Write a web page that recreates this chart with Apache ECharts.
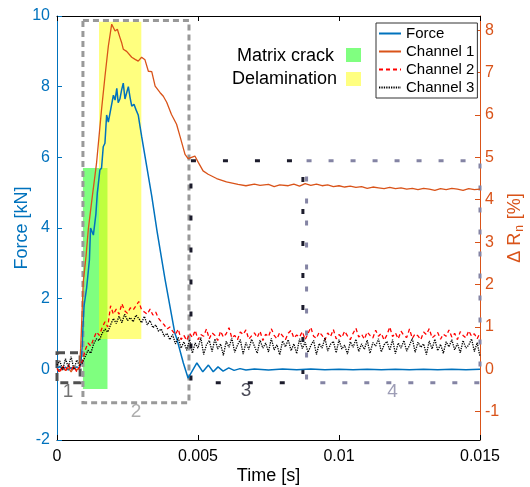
<!DOCTYPE html>
<html><head><meta charset="utf-8">
<script src="https://cdn.jsdelivr.net/npm/echarts@6/dist/echarts.min.js"></script>
<style>html,body{margin:0;padding:0;background:#fff}#c{width:530px;height:487px}</style>
</head><body><div id="c"></div>
<script>
// ---- data ----
const xTicks = [0, 0.005, 0.01, 0.015];
const forceTicks = [-2, 0, 2, 4, 6, 8, 10];
const rTicks = [-1, 0, 1, 2, 3, 4, 5, 6, 7, 8];

const forceData = [[0,0.03],[0.0001,0.08],[0.0002,0.0],[0.0003,0.06],[0.0004,-0.02],[0.0005,0.05],[0.0006,0.01],[0.0007,0.07],[0.0008,0.04],[0.00085,0.2],[0.00089,0.6],[0.00092,1.2],[0.00096,1.8],[0.00105,2.3],[0.00115,3.1],[0.00119,4.0],[0.00129,3.8],[0.00138,4.4],[0.00143,5.0],[0.00146,5.2],[0.00152,5.64],[0.00158,5.7],[0.00164,6.3],[0.0017,6.4],[0.00176,7.2],[0.00182,7.0],[0.00188,7.25],[0.00194,7.2],[0.002,7.76],[0.00206,7.62],[0.00212,7.95],[0.00217,7.55],[0.00223,7.65],[0.00229,7.9],[0.00235,8.1],[0.00241,7.65],[0.00247,7.7],[0.00253,8.0],[0.00259,7.7],[0.00265,7.45],[0.00273,7.5],[0.0028,7.35],[0.00288,7.2],[0.00294,6.9],[0.003,6.6],[0.00318,5.75],[0.00336,4.9],[0.00355,3.9],[0.00383,2.55],[0.00418,1.02],[0.00424,0.89],[0.00448,0.18],[0.00465,-0.25],[0.00472,-0.2],[0.00496,0.18],[0.00517,-0.07],[0.00537,0.12],[0.00554,-0.07],[0.00571,0.07],[0.00589,-0.05],[0.00609,0.04],[0.00628,-0.03],[0.00649,0.02],[0.0067,-0.02],[0.007,0.01],[0.0075,-0.02],[0.008,0.01],[0.0085,-0.01],[0.009,0.01],[0.0095,-0.01],[0.01,0.0],[0.0105,-0.01],[0.011,0.0],[0.0115,-0.01],[0.012,0.0],[0.0125,-0.01],[0.013,0.0],[0.0135,-0.01],[0.014,0.0],[0.0145,-0.01],[0.015,0.0]];

const ch1Data = [[0,0.02],[0.0001,-0.05],[0.0002,0.06],[0.0003,-0.03],[0.0004,0.04],[0.0005,-0.06],[0.0006,0.05],[0.0007,-0.02],[0.0008,0.05],[0.00084,0.5],[0.00093,2.05],[0.00103,2.67],[0.00111,3.3],[0.00123,3.96],[0.0014,4.85],[0.00158,6.13],[0.0017,6.9],[0.00182,7.62],[0.00194,8.14],[0.00198,8.14],[0.00206,7.98],[0.00214,8.02],[0.00223,7.83],[0.00229,7.71],[0.00235,7.55],[0.00247,7.5],[0.00253,7.48],[0.00265,7.36],[0.00277,7.31],[0.00288,7.27],[0.003,7.36],[0.00312,7.3],[0.00324,7.03],[0.00336,7.02],[0.00348,6.68],[0.00365,6.53],[0.00377,6.44],[0.00389,6.3],[0.00406,6.01],[0.00424,5.78],[0.00436,5.5],[0.00454,5.07],[0.00465,4.97],[0.00472,4.94],[0.00489,5.03],[0.00501,4.88],[0.00518,4.68],[0.00536,4.6],[0.00566,4.5],[0.00601,4.42],[0.00642,4.36],[0.0067,4.33],[0.007,4.37],[0.0072,4.34],[0.0075,4.36],[0.0077,4.31],[0.0079,4.35],[0.0082,4.33],[0.0084,4.37],[0.0086,4.32],[0.0088,4.38],[0.009,4.34],[0.0092,4.37],[0.0094,4.33],[0.0096,4.35],[0.0098,4.31],[0.01,4.33],[0.0102,4.3],[0.0104,4.32],[0.0106,4.29],[0.0108,4.31],[0.011,4.27],[0.0112,4.3],[0.0114,4.28],[0.0116,4.26],[0.0118,4.29],[0.012,4.26],[0.0122,4.28],[0.0124,4.25],[0.0126,4.27],[0.0128,4.24],[0.013,4.27],[0.0132,4.25],[0.0134,4.22],[0.0136,4.26],[0.0138,4.24],[0.014,4.27],[0.0142,4.25],[0.0144,4.22],[0.0146,4.26],[0.0148,4.24],[0.015,4.25]];

const chStep = 0.0001;
const ch2Values = [0.02,-0.08,0.1,-0.05,0.12,-0.02,0.08,-0.06,0.05,
0.2,0.45,0.62,0.55,0.72,0.88,0.8,0.98,1.12,1.0,
1.5,1.3,1.42,1.3,1.55,1.38,1.32,1.45,1.4,1.5,
1.6,1.4,1.35,1.3,1.42,1.28,1.35,1.2,1.12,1.05,
0.95,1.0,0.9,0.82,0.95,0.7,0.8,
0.68,0.85,0.75,0.92,0.7,0.82,0.78,0.95,0.72,0.86,
0.8,0.68,0.9,0.76,0.84,0.98,0.74,0.8,0.7,0.88,
0.82,0.93,0.71,0.79,0.86,0.75,0.9,0.68,0.83,0.77,
0.96,0.8,0.72,0.87,0.79,0.7,0.85,0.92,0.74,0.81,
0.76,0.89,0.7,0.84,0.99,0.78,0.73,0.88,0.8,0.69,
0.86,0.77,0.94,0.72,0.82,0.75,0.9,0.79,0.7,0.85,
0.97,0.76,0.83,0.71,0.88,0.8,0.74,0.92,0.78,0.85,
0.69,0.81,1.0,0.77,0.86,0.72,0.9,0.8,0.75,0.95,
0.73,0.84,0.79,0.7,0.88,0.82,0.96,0.74,0.8,0.87,
0.71,0.83,0.78,0.93,0.76,0.85,0.7,0.89,0.8,0.74,
0.91,0.78,0.84,0.72,0.86];
const ch3Values = [0.1,0.2,-0.02,0.25,0.05,0.3,0.0,0.22,0.08,
0.15,0.3,0.45,0.38,0.6,0.72,0.68,0.85,0.95,0.88,
1.05,1.2,1.08,1.25,1.1,1.3,1.15,1.22,1.12,1.28,
1.2,1.1,1.25,1.05,1.15,0.98,1.05,0.9,0.95,0.78,
0.85,0.7,0.82,0.6,0.75,0.5,0.65,
0.45,0.7,0.38,0.62,0.5,0.75,0.35,0.58,0.68,0.42,
0.72,0.48,0.6,0.33,0.66,0.52,0.74,0.4,0.57,0.7,
0.36,0.63,0.47,0.71,0.55,0.38,0.69,0.5,0.62,0.41,
0.73,0.46,0.58,0.34,0.67,0.53,0.7,0.44,0.6,0.37,
0.72,0.49,0.64,0.4,0.56,0.68,0.35,0.61,0.5,0.74,
0.43,0.59,0.66,0.39,0.7,0.48,0.57,0.36,0.65,0.52,
0.71,0.42,0.6,0.47,0.69,0.38,0.63,0.55,0.72,0.41,
0.58,0.66,0.45,0.7,0.37,0.62,0.5,0.68,0.43,0.57,
0.73,0.4,0.64,0.52,0.6,0.35,0.67,0.48,0.71,0.44,
0.59,0.38,0.65,0.53,0.7,0.46,0.61,0.39,0.68,0.5,
0.57,0.72,0.42,0.63,0.3];

// shaded damage regions: [t0, t1], [F0, F1]
const damageNames = ['Matrix crack', 'Delamination'];
const damageT = [[0.00092, 0.00179], [0.00149, 0.00299]];
const damageF = [[-0.56, 5.70], [0.86, 9.84]];

// stage boxes
const stageNames = ['1', '2', '3', '4'];
const stageT = [[-0.00004, 0.00082], [0.00092, 0.00468], [0.00475, 0.00872], [0.00885, 0.015]];
const stageF = [[-0.38, 0.47], [-0.945, 9.87], [-0.38, 5.9], [-0.38, 5.9]];
const stageLabelPos = [[0.00039, -0.64], [0.0028, -1.21], [0.0067, -0.62], [0.0119, -0.64]];

// ---- styles ----
const FONT = 'Liberation Sans, Arial, Helvetica, sans-serif';
const BLUE = '#0072BD', ORANGE = '#D95319';
const damageColors = ['rgba(0,255,0,0.5)', 'rgba(255,255,0,0.5)'];
const damageSwatch = ['#80FF80', '#FFFF80'];
const stageColors = ['#505050', '#999999', '#1c1c2c', '#8484a4'];
const stageDash = [[8, 5], [6, 4], [5, 27], [5, 17]];

const ch2Data = ch2Values.map((v, i) => [+(i * chStep).toFixed(5), v]);
const ch3Data = ch3Values.map((v, i) => [+(i * chStep).toFixed(5), v]);

const chart = echarts.init(document.getElementById('c'), null, {renderer: 'canvas'});
const xFmt = v => v === 0 ? '0' : String(+v.toFixed(3));

const option = {
  animation: false,
  textStyle: {fontFamily: FONT},
  grid: {left: 57, right: 50, top: 16, bottom: 47, containLabel: false, outerBoundsMode: 'none'},
  legend: {
    data: ['Force', 'Channel 1', 'Channel 2', 'Channel 3'],
    orient: 'vertical', left: 376, top: 23,
    padding: [3, 3, 3, 2], itemGap: 3, itemWidth: 22, itemHeight: 14,
    borderColor: '#333', borderWidth: 1, backgroundColor: '#fff',
    itemStyle: {opacity: 0},
    textStyle: {fontSize: 15, color: '#000', fontFamily: FONT},
    z: 20
  },
  xAxis: [{
    type: 'value', min: xTicks[0], max: xTicks[xTicks.length - 1], interval: 0.005, position: 'bottom',
    axisLine: {show: true, onZero: false, lineStyle: {color: '#000', width: 1}},
    axisTick: {show: true, inside: true, length: 5, lineStyle: {color: '#000'}},
    axisLabel: {fontSize: 16, color: '#000', margin: 9, formatter: xFmt, fontFamily: FONT},
    splitLine: {show: false},
    name: 'Time [s]', nameLocation: 'middle', nameGap: 27, nameMoveOverlap: false,
    nameTextStyle: {fontSize: 18, color: '#000', fontFamily: FONT}
  }, {
    type: 'value', min: xTicks[0], max: xTicks[xTicks.length - 1], interval: 0.005, position: 'top',
    axisLine: {show: true, onZero: false, lineStyle: {color: '#000', width: 1}},
    axisTick: {show: true, inside: true, length: 5, lineStyle: {color: '#000'}},
    axisLabel: {show: false}, splitLine: {show: false}
  }],
  yAxis: [{
    type: 'value', min: forceTicks[0], max: forceTicks[forceTicks.length - 1], interval: 2, position: 'left',
    axisLine: {show: true, onZero: false, lineStyle: {color: BLUE, width: 1}},
    axisTick: {show: true, inside: true, length: 5, lineStyle: {color: BLUE}},
    axisLabel: {color: BLUE, fontSize: 16, margin: 7, fontFamily: FONT},
    splitLine: {show: false},
    name: 'Force [kN]', nameLocation: 'middle', nameGap: 26, nameRotate: 90, nameMoveOverlap: false,
    nameTextStyle: {color: BLUE, fontSize: 18, fontFamily: FONT}
  }, {
    type: 'value', min: -5 / 3, max: 25 / 3, position: 'right',
    axisLine: {show: true, onZero: false, lineStyle: {color: ORANGE, width: 1}},
    axisTick: {show: true, inside: true, length: 5, customValues: rTicks, lineStyle: {color: ORANGE}},
    axisLabel: {color: ORANGE, fontSize: 16, margin: 5, customValues: rTicks, fontFamily: FONT},
    splitLine: {show: false},
    name: '{a|Δ R}{b|n}{a| [%]}', nameLocation: 'middle', nameGap: 24, nameRotate: 90, nameMoveOverlap: false,
    nameTextStyle: {color: ORANGE, fontSize: 18, fontFamily: FONT,
      rich: {a: {fontSize: 18, color: ORANGE, fontFamily: FONT},
             b: {fontSize: 12, color: ORANGE, fontFamily: FONT, padding: [10, 1, 0, 1]}}}
  }],
  series: [
    {name: 'Force', type: 'line', yAxisIndex: 0, data: forceData, symbol: 'none', showSymbol: false,
     lineStyle: {color: BLUE, width: 1.5}, itemStyle: {color: BLUE}, z: 2},
    {name: 'Channel 1', type: 'line', yAxisIndex: 1, data: ch1Data, symbol: 'none', showSymbol: false,
     lineStyle: {color: ORANGE, width: 1.3}, itemStyle: {color: ORANGE}, z: 2},
    {name: 'Channel 2', type: 'line', yAxisIndex: 1, data: ch2Data, symbol: 'none', showSymbol: false,
     lineStyle: {color: '#FF0000', width: 1.3, type: [4, 3]}, itemStyle: {color: '#FF0000'}, z: 2},
    {name: 'Channel 3', type: 'line', yAxisIndex: 1, data: ch3Data, symbol: 'none', showSymbol: false,
     lineStyle: {color: '#000', width: 1.3, type: [1.3, 1.1]}, itemStyle: {color: '#000'}, z: 2},
    {name: 'damage', type: 'line', yAxisIndex: 0, data: [], z: 3, silent: true,
     markArea: {silent: true, data: damageNames.map((n, i) => [
       {coord: [damageT[i][0], damageF[i][1]], itemStyle: {color: damageColors[i]}},
       {coord: [damageT[i][1], damageF[i][0]]}])}},
    {name: 'stages', type: 'line', yAxisIndex: 0, data: [], z: 4, silent: true, clip: false,
     markArea: {silent: true, data: stageNames.map((n, i) => [
       {coord: [stageT[i][0], stageF[i][1]], itemStyle: {color: 'rgba(0,0,0,0)', borderColor: stageColors[i], borderWidth: 3, borderType: stageDash[i]}},
       {coord: [stageT[i][1], stageF[i][0]]}])}},
    {name: 'stageLabels', type: 'scatter', yAxisIndex: 0, symbolSize: 0, z: 5, silent: true, clip: false,
     data: stageNames.map((n, i) => ({name: n, value: stageLabelPos[i],
       label: {show: true, position: 'inside', formatter: n, fontSize: 19, color: stageColors[i], fontFamily: FONT}}))}
  ],
  graphic: [
    {type: 'text', right: 530 - 334, top: 47, style: {text: damageNames[0], font: '18px ' + FONT, fill: '#000'}, z: 30},
    {type: 'rect', left: 346, top: 48, shape: {width: 15, height: 14}, style: {fill: damageSwatch[0]}, z: 30},
    {type: 'text', right: 530 - 337, top: 70, style: {text: damageNames[1], font: '18px ' + FONT, fill: '#000'}, z: 30},
    {type: 'rect', left: 346, top: 72, shape: {width: 15, height: 14}, style: {fill: damageSwatch[1]}, z: 30}
  ]
};
chart.setOption(option);
</script>
</body></html>
